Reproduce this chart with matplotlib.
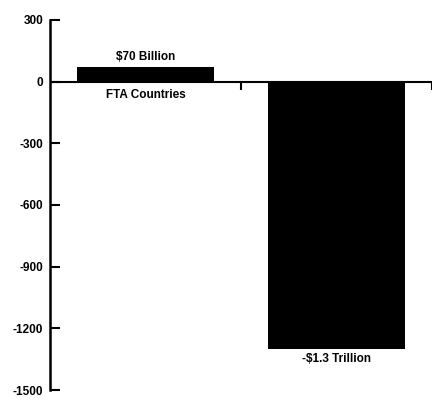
import matplotlib
matplotlib.use("Agg")
import matplotlib.pyplot as plt

# trade balance, billions of dollars
categories = ["FTA Countries", ""]
balances = [70, -1300]
value_labels = ["$70 Billion", "-$1.3 Trillion"]
y_ticks = [300, 0, -300, -600, -900, -1200, -1500]

plt.rcParams["font.family"] = ["Liberation Sans", "DejaVu Sans"]

fig = plt.figure(figsize=(4.33, 3.98), dpi=100)
ax = fig.add_axes([0.1155, 0.020, 0.882, 0.930])

x = list(range(len(balances)))
ax.bar(x, balances, width=0.72, color="black", zorder=2)
ax.axhline(0, color="black", lw=1.5, zorder=3)
ax.vlines([0.5, 1.5], -40, 0, color="black", lw=1.5)

for xi, v, lab, cat in zip(x, balances, value_labels, categories):
    if v >= 0:
        ax.annotate(lab, (xi, v), xytext=(0, 3), textcoords="offset points",
                    ha="center", va="bottom", fontsize=8.5, fontweight="bold")
    else:
        ax.annotate(lab, (xi, v), xytext=(0, -3), textcoords="offset points",
                    ha="center", va="top", fontsize=8.5, fontweight="bold")
    if cat:
        ax.annotate(cat, (xi, 0), xytext=(0, -5), textcoords="offset points",
                    ha="center", va="top", fontsize=8.5, fontweight="bold")

ax.set_xlim(-0.5, 1.5)
ax.set_ylim(-1500, 300)
ax.set_yticks(y_ticks)
ax.set_yticklabels([str(t) for t in y_ticks], fontsize=8.5, fontweight="bold")
ax.tick_params(axis="y", direction="in", length=7, width=1.5, pad=5)
ax.set_xticks([])
for side in ["top", "right", "bottom"]:
    ax.spines[side].set_visible(False)
ax.spines["left"].set_linewidth(1.8)

fig.savefig("out.png", dpi=100)
